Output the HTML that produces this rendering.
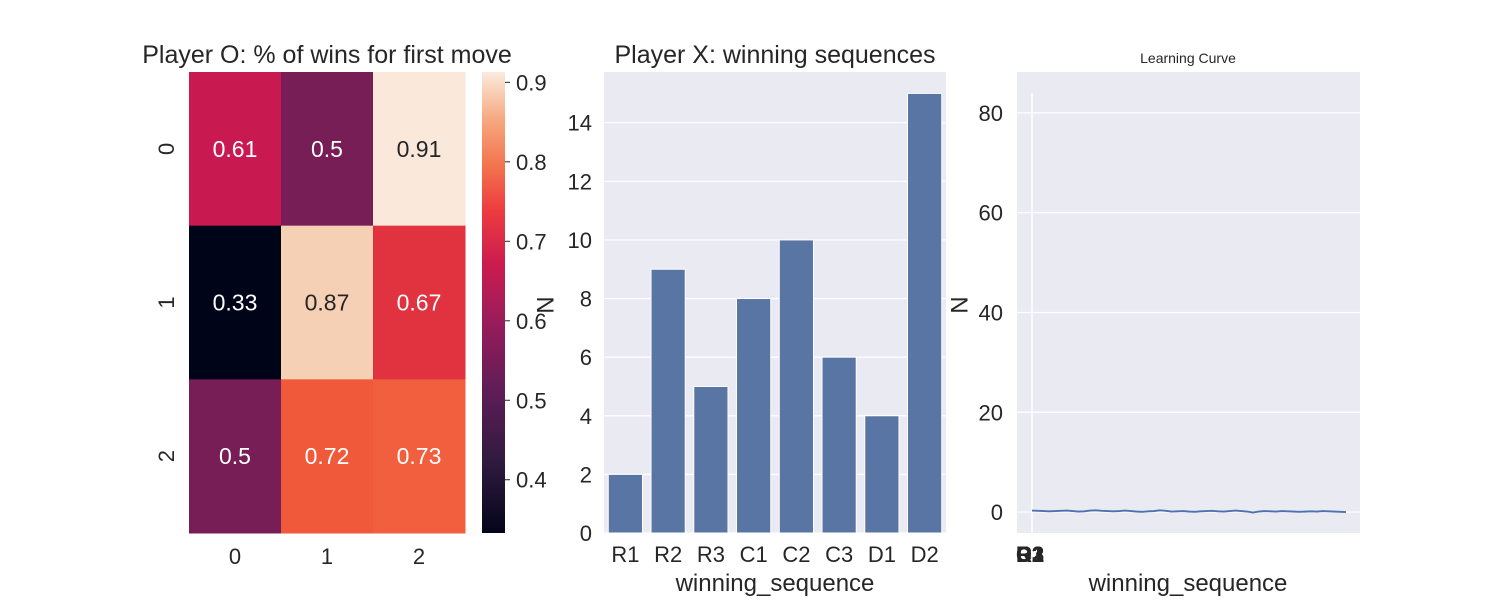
<!DOCTYPE html>
<html><head><meta charset="utf-8"><style>
body{margin:0;background:#fff;font-family:"Liberation Sans","DejaVu Sans",sans-serif}
svg text{font-family:"Liberation Sans","DejaVu Sans",sans-serif;fill:#262626}
</style></head><body>
<svg id="c" width="1512" height="600" xmlns="http://www.w3.org/2000/svg">
<defs><linearGradient id="rocket" x1="0" y1="1" x2="0" y2="0">
<stop offset="0" stop-color="#03051a"/><stop offset="0.15" stop-color="#2e1a3e"/><stop offset="0.3" stop-color="#5c1d55"/><stop offset="0.45" stop-color="#961c5b"/><stop offset="0.58" stop-color="#cb1b4f"/><stop offset="0.7" stop-color="#ed3c3f"/><stop offset="0.8" stop-color="#f3754f"/><stop offset="0.9" stop-color="#f6aa82"/><stop offset="1" stop-color="#faebdd"/></linearGradient></defs>
</svg>
<script>
const heatRows=["0","1","2"];
const heatCols=["0","1","2"];
const heatVals=[[0.61,0.5,0.91],[0.33,0.87,0.67],[0.5,0.72,0.73]];
const cbTicks=[0.4,0.5,0.6,0.7,0.8,0.9];
const barCats=["R1","R2","R3","C1","C2","C3","D1","D2"];
const barVals=[2,9,5,8,10,6,4,15];
const barTicks=[0,2,4,6,8,10,12,14];
const lcVals=[0.3,0.25,0.2,0.15,0.2,0.25,0.3,0.2,0.1,0.15,0.3,0.35,0.25,0.2,0.15,0.2,0.3,0.2,0.1,0.05,0.15,0.2,0.35,0.25,0.1,0.15,0.2,0.1,0.05,0.15,0.2,0.25,0.15,0.1,0.2,0.3,0.2,0.1,-0.1,0.1,0.2,0.15,0.1,0.2,0.15,0.1,0.05,0.1,0.15,0.1,0.2,0.15,0.1,0.05,0.0];
const lcTicks=[0,20,40,60,80];
const svg=document.getElementById('c');const NS='http://www.w3.org/2000/svg';
function mk(t,a,p){const e=document.createElementNS(NS,t);for(const k in a)e.setAttribute(k,a[k]);(p||svg).appendChild(e);return e;}
function tx(x,y,s,sz,anc,extra){const e=mk('text',Object.assign({x:x,y:y,'font-size':sz,'text-anchor':anc||'middle'},extra||{}));e.textContent=s;return e;}
const stops=[[0.333,[3,5,26]],[0.38,[46,26,62]],[0.43,[92,29,85]],[0.49,[110,31,84]],[0.54,[150,28,91]],[0.61,[200,26,80]],[0.67,[224,50,63]],[0.72,[240,90,58]],[0.77,[243,117,79]],[0.83,[246,170,130]],[0.87,[246,208,180]],[0.913,[250,235,221]]];
function col(v){for(let i=1;i<stops.length;i++){if(v<=stops[i][0]){const a=stops[i-1],b=stops[i],t=(v-a[0])/(b[0]-a[0]);const c=a[1].map((x,j)=>Math.round(x+(b[1][j]-x)*t));return `rgb(${c})`;}}return 'rgb(250,235,221)';}
const TS=22;
// Heatmap
const hx=189,hy=72,hw=276,hh=461,cw=hw/3,ch=hh/3;
heatVals.forEach((row,r)=>row.forEach((v,c)=>{
 const e=mk('rect',{x:hx+c*cw,y:hy+r*ch,width:cw+0.5,height:ch+0.5,fill:col(v)});
 
 
 const t=tx(hx+(c+0.5)*cw,hy+(r+0.5)*ch+8,String(v),23,'middle',{style:'fill:'+(v>0.8?'#262626':'#fff')});
 
 
}));
heatRows.forEach((s,i)=>{tx(0,0,s,TS,'middle',{transform:`translate(${hx-15},${hy+(i+0.5)*ch}) rotate(-90)`});});
heatCols.forEach((s,i)=>{tx(hx+(i+0.5)*cw,564,s,TS);});
tx(327,63,'Player O: % of wins for first move',25);
// colorbar
mk('rect',{x:482,y:72,width:23,height:461,fill:'url(#rocket)'});
const cbY=v=>533-(v-0.333)/(0.913-0.333)*461;
cbTicks.forEach(v=>{mk('line',{x1:505,x2:510,y1:cbY(v),y2:cbY(v),stroke:'#262626'});tx(516,cbY(v)+8,v.toFixed(1),TS,'start');});
// Bar chart
const bx=604,by=72,bw=342,bh=461,bmax=15.73;
mk('rect',{x:bx,y:by,width:bw,height:bh,fill:'#eaeaf2'});
const bY=v=>by+bh-v/bmax*bh;
barTicks.forEach(v=>{mk('line',{x1:bx,x2:bx+bw,y1:bY(v),y2:bY(v),stroke:'#fff','stroke-width':1.2});tx(bx-12,bY(v)+8,String(v),TS,'end');});
const slot=bw/barCats.length;
barCats.forEach((c,i)=>{const e=mk('rect',{x:bx+i*slot+slot*0.1,y:bY(barVals[i]),width:slot*0.8,height:barVals[i]/bmax*bh,fill:'#5975a4',stroke:'#fff','stroke-width':1});
 
 
 tx(bx+(i+0.5)*slot,562,c,TS);});
tx(775,63,'Player X: winning sequences',25);
tx(775,591,'winning_sequence',24);
tx(0,0,'N',24,'middle',{transform:'translate(537,305) rotate(90)'});
// Learning curve
const lx=1017,ly=72,lw=343,lh=461,ymin=-4.2,ymax=88.2;
mk('rect',{x:lx,y:ly,width:lw,height:lh,fill:'#eaeaf2'});
const lY=v=>ly+lh-(v-ymin)/(ymax-ymin)*lh;
lcTicks.forEach(v=>{mk('line',{x1:lx,x2:lx+lw,y1:lY(v),y2:lY(v),stroke:'#fff','stroke-width':1.2});tx(lx-14,lY(v)+8,String(v),TS,'end');});
mk('line',{x1:1032,x2:1032,y1:lY(84),y2:ly+lh,stroke:'#fff','stroke-width':1.5});
const x0=1032,x1=1346;
const pts=lcVals.map((v,i)=>`${x0+i*(x1-x0)/(lcVals.length-1)},${lY(v)}`).join(' ');
const pl=mk('polyline',{points:pts,fill:'none',stroke:'#4c72b0','stroke-width':1.8});


barCats.forEach(c=>{tx(1030,562,c,TS,'middle',{style:'font-weight:bold'});});
tx(1188,63,'Learning Curve',14);
tx(1188,591,'winning_sequence',24);
tx(0,0,'N',24,'middle',{transform:'translate(951,305) rotate(90)'});
</script>
</body></html>
